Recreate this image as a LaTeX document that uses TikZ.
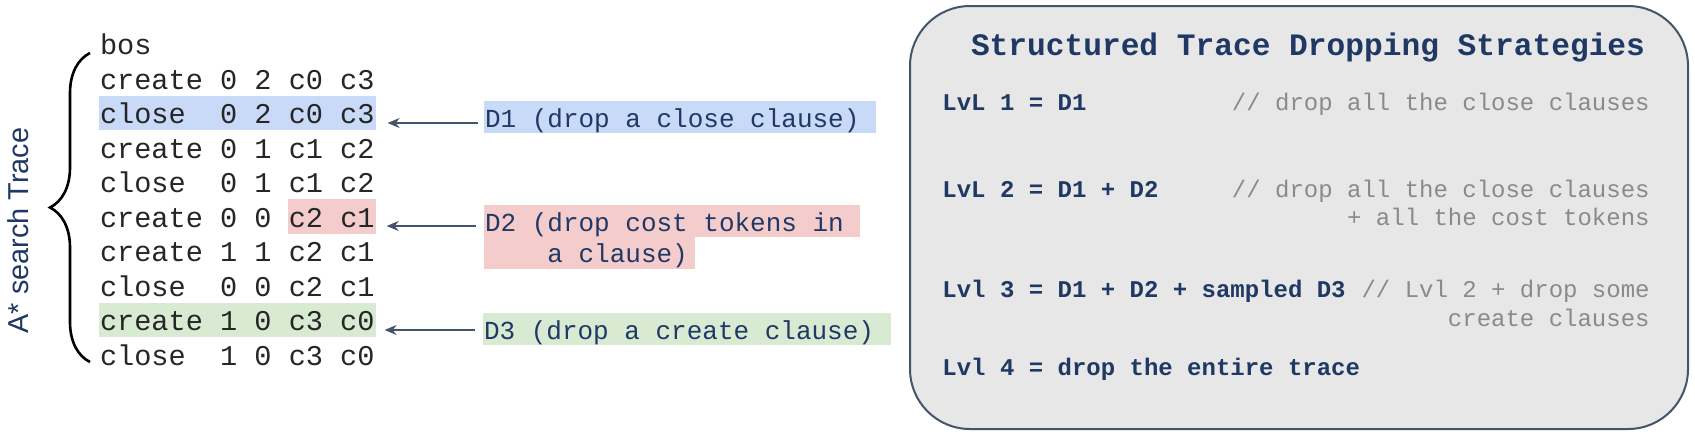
\documentclass[tikz,border=0pt]{standalone}
\usepackage{fontspec}
\setmainfont{Liberation Serif}
\setsansfont{Liberation Sans}
\setmonofont{Liberation Mono}[WordSpace={1,0,0}]
\usetikzlibrary{positioning,arrows.meta,decorations.pathreplacing}
\usepackage{xcolor}

\definecolor{tracenavy}{HTML}{1F3864}
\definecolor{closeblue}{HTML}{C9DAF8}
\definecolor{costred}{HTML}{F4CCCC}
\definecolor{creategreen}{HTML}{D9EAD3}
\definecolor{panelgray}{HTML}{E7E7E7}
\definecolor{panelline}{HTML}{44546A}
\definecolor{notegray}{HTML}{8A8A8A}

\begin{document}
\begin{tikzpicture}[x=0.5pt, y=-0.5pt,
  row/.style={font=\fontsize{14.3pt}{17pt}\selectfont\ttfamily, text=black!85,
              inner xsep=0.5pt, inner ysep=0pt, outer sep=0pt,
              text height=14pt, text depth=3.25pt},
  dlabel/.style={font=\fontsize{13pt}{16pt}\selectfont\ttfamily, text=tracenavy,
                 inner xsep=0.5pt, inner ysep=0pt, outer sep=0pt, anchor=west,
                 text height=13pt, text depth=3pt},
  link/.style={-{Stealth[length=6pt,width=5pt]}, line width=0.8pt, draw=panelline},
  panel/.style={draw=panelline, line width=1pt, fill=panelgray,
                rounded corners=30pt, minimum width=389pt, minimum height=211.5pt},
  title/.style={font=\fontsize{15.6pt}{18pt}\selectfont\ttfamily\bfseries,
                text=tracenavy, inner sep=0pt, anchor=base},
  lvl/.style={font=\fontsize{12pt}{14pt}\selectfont\ttfamily\bfseries,
              text=tracenavy, inner sep=0pt, anchor=base west},
  note/.style={font=\fontsize{12pt}{14pt}\selectfont\ttfamily,
               text=notegray, inner sep=0pt, anchor=base east},
  ]
  \fill[white] (0,0) rectangle (1695,436);
  \useasboundingbox (0,0) rectangle (1695,436);

  % the trace
  \node[row, anchor=west] (r0) at (99,44) {bos};
  \node[row, below right=0pt and 0pt of r0.south west] (r1) {create 0 2 c0 c3};
  \node[row, below right=0pt and 0pt of r1.south west, fill=closeblue] (r2)
    {close~ 0 2 c0 c3};
  \node[row, below right=0pt and 0pt of r2.south west] (r3) {create 0 1 c1 c2};
  \node[row, below right=0pt and 0pt of r3.south west] (r4) {close~ 0 1 c1 c2};
  \node[row, below right=0pt and 0pt of r4.south west] (r5) {create 0 0};
  \node[row, right=7.6pt of r5, fill=costred] (r5cost) {c2 c1};
  \node[row, below right=0pt and 0pt of r5.south west] (r6) {create 1 1 c2 c1};
  \node[row, below right=0pt and 0pt of r6.south west] (r7) {close~ 0 0 c2 c1};
  \node[row, below right=0pt and 0pt of r7.south west, fill=creategreen] (r8)
    {create 1 0 c3 c0};
  \node[row, below right=0pt and 0pt of r8.south west] (r9) {close~ 1 0 c3 c0};

  \coordinate (bracetop) at (90,53);
  \coordinate (bracebot) at (90,362);
  \draw[decorate, decoration={brace, amplitude=20pt}, line width=1.3pt]
    (bracebot) -- (bracetop);
  \node[font=\sffamily\fontsize{14.4pt}{17pt}\selectfont, text=tracenavy,
        rotate=90, anchor=base, inner sep=0pt] (tracelabel) at (28.5,230.5)
    {A* search Trace};

  % dropping labels
  \node[dlabel, fill=closeblue] (d1) at (484,117)
    {D1 (drop a close clause)\rule{7.8pt}{0pt}};
  \node[dlabel, fill=costred] (d2) at (484,221)
    {D2 (drop cost tokens in\rule{7.8pt}{0pt}};
  \node[dlabel, fill=costred] (d2b) at (484,252.5)
    {~~~~a clause)\rule{3pt}{0pt}};
  \node[dlabel, fill=creategreen] (d3) at (483,329)
    {D3 (drop a create clause)\rule{7.8pt}{0pt}};

  \draw[link] ([shift={(-6,6)}]d1.west) -- ([shift={(12,10)}]r2.east);
  \draw[link] ([shift={(-8,5)}]d2.west) -- ([shift={(11,9.5)}]r5cost.east);
  \draw[link] ([shift={(-8,1)}]d3.west) -- ([shift={(9,10)}]r8.east);

  % strategies panel
  \node[panel] (panel) at (1299,217.5) {};
  \node[title] (title) at (1308,55) {Structured Trace Dropping Strategies};
  \node[lvl] (lvl1) at (942,110) {LvL 1 = D1};
  \node[note] (lvl1note) at (1650,110) {// drop all the close clauses};
  \node[lvl] (lvl2) at (942,197) {LvL 2 = D1 + D2};
  \node[note] (lvl2note) at (1650,197) {// drop all the close clauses};
  \node[note] (lvl2more) at (1650,225) {+ all the cost tokens};
  \node[lvl] (lvl3) at (942,297) {Lvl 3 = D1 + D2 + sampled D3};
  \node[note] (lvl3note) at (1650,297) {// Lvl 2 + drop some};
  \node[note] (lvl3more) at (1650,326) {create clauses};
  \node[lvl] (lvl4) at (942,375) {Lvl 4 = drop the entire trace};
\end{tikzpicture}
\end{document}
